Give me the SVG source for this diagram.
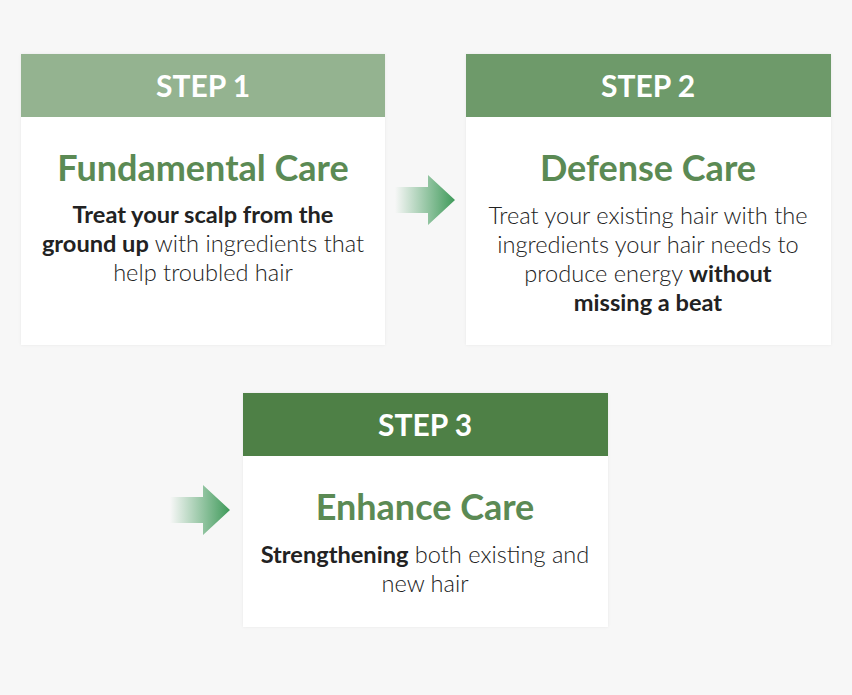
<svg xmlns="http://www.w3.org/2000/svg" width="852" height="695" viewBox="0 0 852 695">
<defs>
<linearGradient id="ag" x1="0" y1="0" x2="1" y2="0">
<stop offset="0" stop-color="#3f9a5a" stop-opacity="0"/>
<stop offset="1" stop-color="#3f9a5a" stop-opacity="1"/>
</linearGradient>
<filter id="sh" x="-5%" y="-5%" width="110%" height="110%"><feDropShadow dx="0" dy="0" stdDeviation="1.5" flood-color="#000" flood-opacity="0.06"/></filter>
</defs>
<style>
.card{fill:#ffffff}
.step{font-family:Lato,"Noto Sans",sans-serif;font-weight:700;font-size:30px;fill:#ffffff;text-anchor:middle}
.title{font-family:Lato,"Noto Sans",sans-serif;font-weight:700;font-size:36px;fill:#5b8a54;text-anchor:middle}
.body{font-family:Lato,"Noto Sans",sans-serif;font-weight:300;font-size:23.6px;fill:#222222;text-anchor:middle}
.b{font-weight:700}
</style>
<rect width="852" height="695" fill="#f7f7f7"/>
<g id="step1">
<rect class="card" x="21" y="54" width="364" height="291" filter="url(#sh)"/>
<rect x="21" y="54" width="364" height="63" fill="#94b390"/>
<text class="step" x="203" y="97">STEP 1</text>
<text class="title" x="203" y="181">Fundamental Care</text>
<text class="body" x="203" y="223"><tspan class="b">Treat your scalp from the</tspan></text>
<text class="body" x="203" y="252"><tspan class="b">ground up</tspan> with ingredients that</text>
<text class="body" x="203" y="281">help troubled hair</text>
</g>
<g id="step2">
<rect class="card" x="466" y="54" width="365" height="291" filter="url(#sh)"/>
<rect x="466" y="54" width="365" height="63" fill="#6e9a6a"/>
<text class="step" x="648" y="97">STEP 2</text>
<text class="title" x="648" y="181">Defense Care</text>
<text class="body" x="648" y="224">Treat your existing hair with the</text>
<text class="body" x="648" y="253">ingredients your hair needs to</text>
<text class="body" x="648" y="282">produce energy <tspan class="b">without</tspan></text>
<text class="body" x="648" y="311"><tspan class="b">missing a beat</tspan></text>
</g>
<g id="step3">
<rect class="card" x="243" y="393" width="365" height="234" filter="url(#sh)"/>
<rect x="243" y="393" width="365" height="63" fill="#4e8046"/>
<text class="step" x="425" y="436">STEP 3</text>
<text class="title" x="425" y="520">Enhance Care</text>
<text class="body" x="425" y="563"><tspan class="b">Strengthening</tspan> both existing and</text>
<text class="body" x="425" y="592">new hair</text>
</g>
<g id="connectors">
<path d="M395 187 H428 V175 L455 200 L428 225 V213 H395 Z" fill="url(#ag)"/>
<path d="M170 497 H203 V485 L230 510 L203 535 V523 H170 Z" fill="url(#ag)"/>
</g>
</svg>
